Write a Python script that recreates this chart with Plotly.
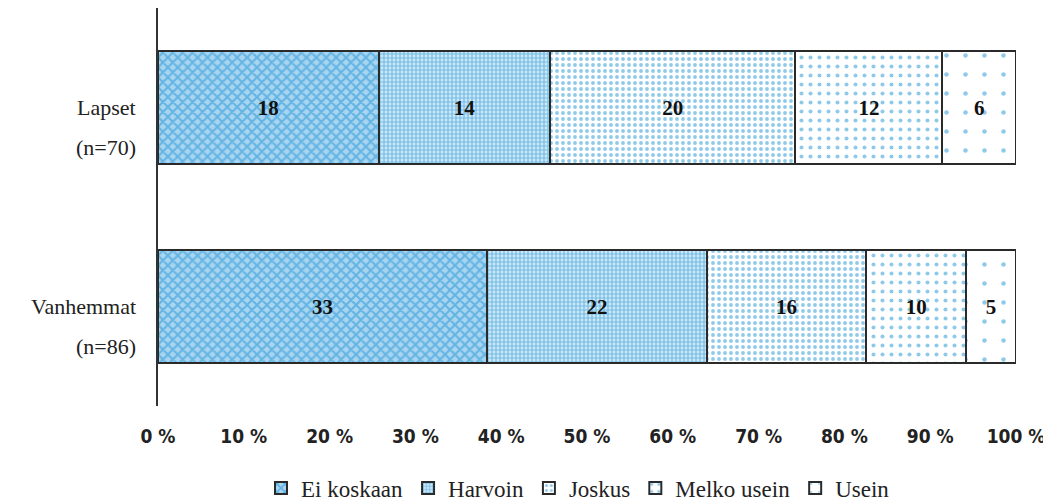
import plotly.graph_objects as go

group_names = ["Lapset", "Vanhemmat"]
group_n = ["(n=70)", "(n=86)"]
categories = ["Ei koskaan", "Harvoin", "Joskus", "Melko usein", "Usein"]
counts = {
    "Ei koskaan": [18, 33],
    "Harvoin": [14, 22],
    "Joskus": [20, 16],
    "Melko usein": [12, 10],
    "Usein": [6, 5],
}
totals = [70, 86]
tick_vals = [0, 10, 20, 30, 40, 50, 60, 70, 80, 90, 100]
tick_text = [f"{v} %" for v in tick_vals]

blue = "#1f93d6"
patterns = {
    "Ei koskaan": dict(shape="x", size=7, solidity=0.5, fgcolor=blue, bgcolor="#a8d5f0", fillmode="overlay"),
    "Harvoin": dict(shape=".", size=4, solidity=0.7, fgcolor=blue, bgcolor="#eaf5fc", fillmode="overlay"),
    "Joskus": dict(shape=".", size=6, solidity=0.32, fgcolor=blue, bgcolor="white", fillmode="overlay"),
    "Melko usein": dict(shape=".", size=9, solidity=0.16, fgcolor=blue, bgcolor="white", fillmode="overlay"),
    "Usein": dict(shape=".", size=19, solidity=0.045, fgcolor=blue, bgcolor="white", fillmode="overlay"),
}

fig = go.Figure()
for cat in categories:
    vals = counts[cat]
    pct = [v / t * 100 for v, t in zip(vals, totals)]
    fig.add_trace(go.Bar(
        y=group_names, x=pct, name=cat, orientation="h",
        text=[str(v) for v in vals], textposition="inside", insidetextanchor="middle",
        textfont=dict(family="Liberation Serif", size=21, color="#111111", weight="bold"),
        marker=dict(color="white", pattern=patterns[cat],
                    line=dict(color="#2a2a2a", width=2)),
        width=0.57,
        hoverinfo="skip",
    ))

for name, n in zip(group_names, group_n):
    fig.add_annotation(text=name, xref="paper", x=0, xanchor="right", xshift=-20,
                       y=name, yref="y", yshift=0, showarrow=False,
                       font=dict(family="Liberation Serif", size=22, color="#222222"))
    fig.add_annotation(text=n, xref="paper", x=0, xanchor="right", xshift=-20,
                       y=name, yref="y", yshift=-40, showarrow=False,
                       font=dict(family="Liberation Serif", size=22, color="#222222"))

fig.update_layout(
    barmode="stack",
    width=1043, height=502,
    margin=dict(l=150, r=35, t=0, b=104),
    plot_bgcolor="white", paper_bgcolor="white",
    showlegend=True,
    legend=dict(orientation="h", x=0.4895, xanchor="center", y=-0.206, yanchor="middle",
                font=dict(family="Liberation Serif", size=23, color="#222222"),
                itemwidth=30, traceorder="normal"),
    uniformtext=dict(minsize=10, mode="show"),
)
fig.update_xaxes(range=[0, 100], tickvals=tick_vals, ticktext=tick_text, automargin=False,
                 showgrid=False, zeroline=False, showline=False,
                 ticks="outside", ticklen=13, tickcolor="rgba(0,0,0,0)",
                 tickfont=dict(family="DejaVu Sans Condensed", size=19, color="#222222", weight="bold"))
fig.update_yaxes(categoryorder="array", categoryarray=group_names, autorange=False,
                 range=[1.5, -0.5], showgrid=False, zeroline=False, automargin=False,
                 showline=True, linecolor="#333333", linewidth=1.5,
                 ticks="", showticklabels=False)

fig.write_html("out.html")
